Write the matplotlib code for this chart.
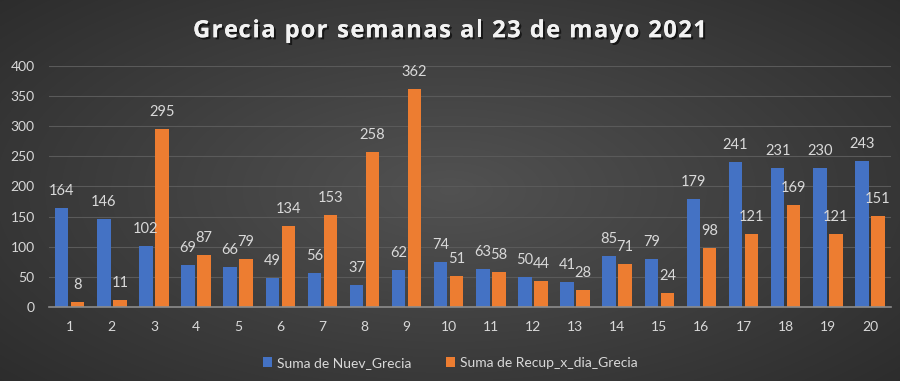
import numpy as np
import matplotlib
matplotlib.use("Agg")
import matplotlib.pyplot as plt
import matplotlib.patheffects as pe

weeks = [str(i) for i in range(1, 21)]
nuev = [164, 146, 102, 69, 66, 49, 56, 37, 62, 74, 63, 50, 41, 85, 79, 179, 241, 231, 230, 243]
recup = [8, 11, 295, 87, 79, 134, 153, 258, 362, 51, 58, 44, 28, 71, 24, 98, 121, 169, 121, 151]
yticks = [0, 50, 100, 150, 200, 250, 300, 350, 400]
title = 'Grecia por semanas al 23 de mayo 2021'

plt.rcParams['font.family'] = ['Lato', 'DejaVu Sans']
txt = '#d9d9d9'

fig = plt.figure(figsize=(9, 3.81), dpi=100)
# background gradient
bg = fig.add_axes([0, 0, 1, 1], zorder=-10)
yy, xx = np.mgrid[-1:1:381j, -1:1:900j]
r = np.sqrt(xx**2 + (yy * 0.9)**2)
vals = 0.32 - 0.15 * np.clip(r, 0, 1.4) / 1.4
img = np.dstack([vals, vals, vals])
bg.imshow(img, aspect='auto', extent=[0, 1, 0, 1])
bg.axis('off')

ax = fig.add_axes([0.054, 0.194, 0.936, 0.633])
ax.set_facecolor('none')
x = np.arange(1, 21)
w = 0.32
off = 0.19
b1 = ax.bar(x - off, nuev, w, color='#4472C4', label='Suma de Nuev_Grecia', zorder=3)
b2 = ax.bar(x + off, recup, w, color='#ED7D31', label='Suma de Recup_x_dia_Grecia', zorder=3)
for bars, vs in ((b1, nuev), (b2, recup)):
    for rect, v in zip(bars, vs):
        ax.annotate(str(v), (rect.get_x() + rect.get_width() / 2, v), xytext=(0, 17),
                    textcoords='offset pixels', ha='center', va='center', color=txt, fontsize=10.5)

ax.set_xlim(0.5, 20.5)
ax.set_ylim(0, 400)
ax.set_yticks(yticks)
ax.set_xticks(x)
ax.set_xticklabels(weeks)
ax.tick_params(colors=txt, labelsize=10, length=0)
ax.tick_params(axis='x', pad=10)
ax.tick_params(axis='y', pad=10)
ax.grid(axis='y', color='#5a5a5a', linewidth=0.8, zorder=0)
for s in ['top', 'right', 'left']:
    ax.spines[s].set_visible(False)
ax.spines['bottom'].set_color('#8c8c8c')
ax.spines['bottom'].set_linewidth(1.2)
ax.spines['bottom'].set_zorder(4)

# letter-spaced title
renderer = fig.canvas.get_renderer()
tkw = dict(color='#f2f2f2', fontsize=17, fontweight='bold', family=['Open Sans', 'DejaVu Sans'],
           va='center', ha='left',
           path_effects=[pe.withSimplePatchShadow(offset=(1.5, -1.5), shadow_rgbFace='black', alpha=0.6), pe.Normal()])

def width_px(s):
    t = fig.text(0, 0, s + 'x', **tkw)
    wv = t.get_window_extent(renderer).width
    t.remove()
    return wv

wx = width_px('')
track = 1.5
offsets = [width_px(title[:i]) - wx + i * track for i in range(len(title))]
total = width_px(title) - wx + (len(title) - 1) * track
x0 = 450 - total / 2
for ch, o in zip(title, offsets):
    if ch != ' ':
        fig.text((x0 + o) / 900, 0.918, ch, **tkw)

leg = fig.legend(loc='center', bbox_to_anchor=(0.5, 0.048), ncol=2, frameon=False,
                 fontsize=10, handlelength=0.7, handleheight=0.7, handletextpad=0.3, columnspacing=2.5)
for t in leg.get_texts():
    t.set_color(txt)

fig.savefig('out.png', dpi=100)
